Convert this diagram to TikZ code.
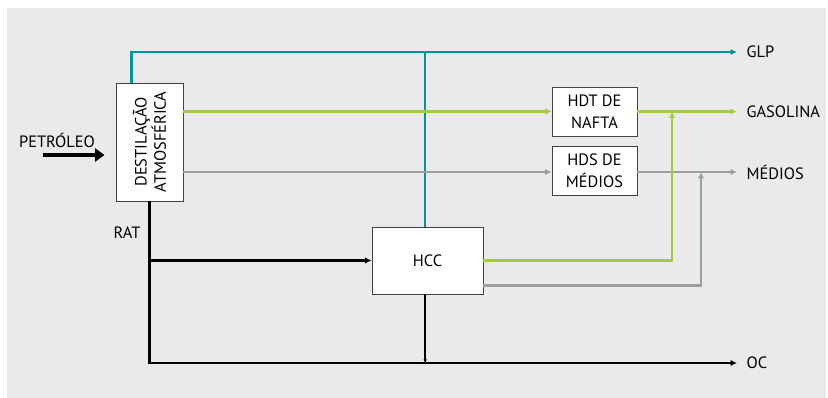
\documentclass[tikz,border=0pt]{standalone}
\usepackage{fontspec}
\setmainfont{PT Sans}
\usetikzlibrary{arrows.meta}

\definecolor{fundo}{RGB}{234,234,236}
\definecolor{corglp}{RGB}{0,150,152}
\definecolor{cornafta}{RGB}{163,205,57}
\definecolor{cormedios}{RGB}{158,158,158}

\tikzset{
    caixa/.style={draw=black!75, fill=white, line width=0.8pt, align=center, inner sep=0pt},
    fluxo/.style={line width=2.2pt, -{Latex[length=5.5pt,width=5.5pt]}},
    saida/.style={anchor=west, inner sep=0pt, xshift=8pt},
    entrada/.style={line width=4pt, -{Triangle[length=8pt,width=11pt]}},
}

\begin{document}
\begin{tikzpicture}[x=0.03cm, y=-0.03cm, font=\fontsize{14}{19}\selectfont]
        % Fundo
        \useasboundingbox (0,0) rectangle (828,398);
        \fill[fundo] (7,8) rectangle (826,398);

        % Caixas
        \node[caixa, minimum width=2.01cm, minimum height=3.54cm] (dest) at (149.5,142) {};
        \node[rotate=90, align=center, font=\fontsize{14}{16.5}\selectfont] (destlabel) at (dest.center) {DESTILAÇÃO\\ATMOSFÉRICA};
        \node[caixa, minimum width=2.55cm, minimum height=1.47cm] (hdt) at (594.5,111.5) {HDT DE\\NAFTA};
        \node[caixa, minimum width=2.55cm, minimum height=1.47cm] (hds) at (594.5,170.5) {HDS DE\\MÉDIOS};
        \node[caixa, minimum width=3.33cm, minimum height=2.01cm] (hcc) at (427.5,260.5) {HCC};

        % Saidas
        \node[saida] (glp) at (737,52) {GLP};
        \node[saida] (gasolina) at (737,111.5) {GASOLINA};
        \node[saida] (medios) at (737,172) {MÉDIOS};
        \node[saida] (oc) at (737,363) {OC};
        \node (rat) at (127,233) {RAT};
        \node (petroleo) at (57,140) {PETRÓLEO};

        \coordinate (entra) at (43,155);
        \coordinate (juntaG) at (672,111.5);
        \coordinate (juntaM) at (701,172);

        % Carga
        \draw[entrada, shorten >=9.4pt] (entra) -- (entra -| dest.west);

        % GLP
        \draw[fluxo, corglp, shorten >=8pt] ([xshift=-15.3pt]dest.north) |- (glp.west);
        \draw[line width=2.2pt, corglp] ([xshift=-2pt]hcc.north) -- ([xshift=-2pt]hcc.north |- glp.west);

        % Nafta e medios
        \draw[fluxo, cornafta] (dest.east |- hdt.west) -- (hdt.west);
        \draw[fluxo, cornafta, shorten >=8pt] (hdt.east) -- (gasolina.west);
        \draw[fluxo, cormedios] (dest.east |- medios.west) -- (hds.west |- medios.west);
        \draw[fluxo, cormedios, shorten >=8pt] (hds.east |- medios.west) -- (medios.west);
        \draw[fluxo, cornafta] (hcc.east) -| (juntaG);
        \draw[fluxo, cormedios] ([yshift=7.7pt]hcc.south east) -| (juntaM);

        % RAT
        \draw[fluxo, black, shorten >=8pt] (dest.south) |- (oc.west);
        \draw[fluxo, black] (dest.south |- hcc.west) -- (hcc.west);
        \draw[line width=2.2pt, -{Latex[length=3pt,width=3pt]}] ([xshift=-2pt]hcc.south) -- ([xshift=-2pt]hcc.south |- oc.west);
    \end{tikzpicture}
\end{document}
